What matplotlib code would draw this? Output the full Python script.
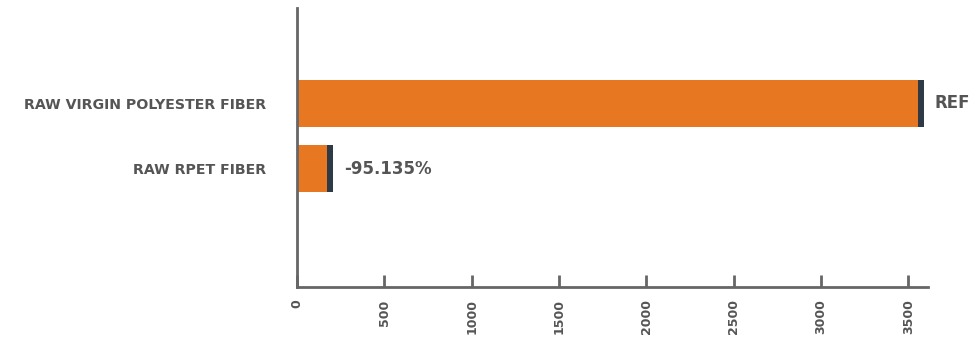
import matplotlib.pyplot as plt
import numpy as np

# fiber types and their totals
categories = ["RAW VIRGIN POLYESTER FIBER", "RAW RPET FIBER"]
values = [3555, 173]
labels = ["REF", "-95.135%"]
ticks = [0, 500, 1000, 1500, 2000, 2500, 3000, 3500]

orange = "#E87722"
cap = "#2E3A46"
grey = "#555555"
axis_grey = "#666666"
cap_w = 34

fig = plt.figure(figsize=(9.74, 3.42), dpi=100)
ax = fig.add_axes([0.305, 0.161, 0.648, 0.816])

y = np.arange(len(categories))
ax.barh(y, values, height=0.72, color=orange)
ax.barh(y, [cap_w] * len(values), left=values, height=0.72, color=cap)

for yi, v, lab in zip(y, values, labels):
    ax.text(v + cap_w + 60, yi, lab, va="center", ha="left",
            fontsize=12, fontweight="heavy", color=grey)

ax.set_xlim(0, 3614)
ax.set_ylim(2.82, -1.47)
ax.set_yticks(y)
ax.set_yticklabels(categories, fontsize=10.2, fontweight="bold", color=grey)
ax.tick_params(axis="y", length=0, pad=22)

ax.set_xticks(ticks)
ax.set_xticklabels([str(t) for t in ticks], rotation=90, fontsize=9,
                   fontweight="bold", color=grey)
ax.tick_params(axis="x", direction="in", length=9, width=2,
               color=axis_grey, pad=9)

for s in ["top", "right"]:
    ax.spines[s].set_visible(False)
for s in ["left", "bottom"]:
    ax.spines[s].set_color(axis_grey)
    ax.spines[s].set_linewidth(2)

fig.savefig("out.png", dpi=100)
